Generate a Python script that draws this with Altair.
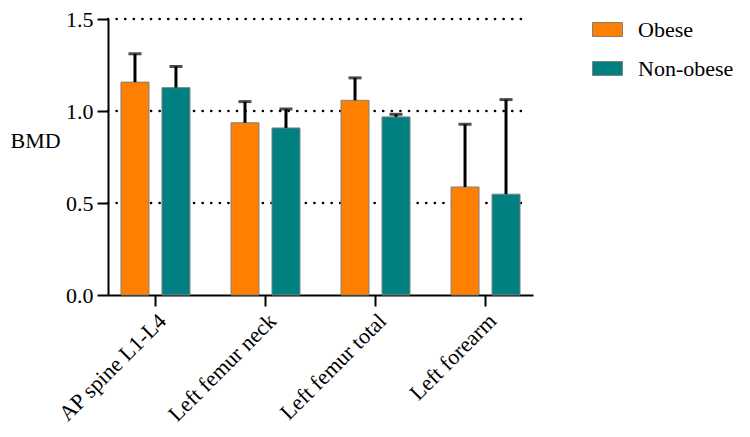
import altair as alt
import pandas as pd

sites = ["AP spine L1-L4", "Left femur neck", "Left femur total", "Left forearm"]
groups = ["Obese", "Non-obese"]
obese_mean = [1.157, 0.936, 1.058, 0.587]
obese_upper = [1.311, 1.051, 1.180, 0.928]
nonobese_mean = [1.127, 0.908, 0.968, 0.548]
nonobese_upper = [1.242, 1.011, 0.982, 1.062]
grid_values = [0.5, 1.0, 1.5]
colors = ["#FF8000", "#008080"]

rows = []
for i, s in enumerate(sites):
    rows.append({"site": s, "group": "Obese", "mean": obese_mean[i], "upper": obese_upper[i]})
    rows.append({"site": s, "group": "Non-obese", "mean": nonobese_mean[i], "upper": nonobese_upper[i]})
df = pd.DataFrame(rows)
grid_df = pd.DataFrame({"v": grid_values})

FONT = "Liberation Serif"

axis_common = dict(labelFont=FONT, labelFontSize=22, labelColor="black",
                   titleFont=FONT, titleFontSize=22, titleFontWeight="normal", titleColor="black",
                   domainColor="black", domainWidth=2, tickColor="black", tickWidth=2,
                   tickSize=11, labelPadding=4, grid=False)

xscale = alt.Scale(paddingInner=0.373, paddingOuter=0.118)
x_axis = alt.Axis(labelAngle=-45, labelAlign="right", labelBaseline="top", **axis_common)
x = alt.X("site:N", sort=sites, title=None, scale=xscale, axis=x_axis)
xo = alt.XOffset("group:N", sort=groups,
                 scale=alt.Scale(paddingInner=0.317, paddingOuter=0))

yscale = alt.Scale(domain=[0, 1.5], nice=False, zero=True)
y_axis = alt.Axis(values=[0, 0.5, 1.0, 1.5], format=".1f",
                  titleAngle=0, titleAlign="left", titleBaseline="middle",
                  titleX=-98, titleY=121, **axis_common)

legend = alt.Legend(title=None, orient="none", legendX=484, legendY=-5,
                    symbolType="M-1,-0.467L1,-0.467L1,0.467L-1,0.467Z",
                    symbolSize=900, symbolStrokeColor="#808080", symbolStrokeWidth=1,
                    labelFont=FONT, labelFontSize=22, labelColor="black",
                    labelOffset=15, rowPadding=12, padding=0)

grid = alt.Chart(grid_df).mark_rule(color="black", strokeWidth=2.6, strokeCap="round",
                                    strokeDash=[0.1, 8.5]).encode(
    y=alt.Y("v:Q", title="BMD", scale=yscale, axis=y_axis),
    x=alt.value(0), x2=alt.value(419),
)

bars = alt.Chart(df).mark_bar(stroke="#808080", strokeWidth=1).encode(
    x=x, xOffset=xo,
    y=alt.Y("mean:Q", title="BMD", scale=yscale, axis=y_axis),
    color=alt.Color("group:N", sort=groups,
                    scale=alt.Scale(domain=groups, range=colors), legend=legend),
)

err = alt.Chart(df).mark_rule(color="black", strokeWidth=3).encode(
    x=x, xOffset=xo,
    y=alt.Y("mean:Q", title="BMD", scale=yscale, axis=y_axis), y2="upper:Q",
)

caps = alt.Chart(df).mark_tick(color="black", thickness=3, size=13, orient="horizontal").encode(
    x=x, xOffset=xo,
    y=alt.Y("upper:Q", title="BMD", scale=yscale, axis=y_axis),
)

chart = alt.layer(grid, bars, err, caps).properties(
    width=425, height=276,
    autosize=alt.AutoSizeParams(type="none"),
    padding={"left": 100, "top": 11, "right": 209, "bottom": 134},
).configure(font=FONT).configure_axis(**axis_common).configure_legend(
    labelFont=FONT, labelFontSize=22, labelColor="black",
).configure_view(strokeWidth=0, stroke="transparent")

chart.save("out.html", embed_options={"renderer": "svg", "actions": False})
